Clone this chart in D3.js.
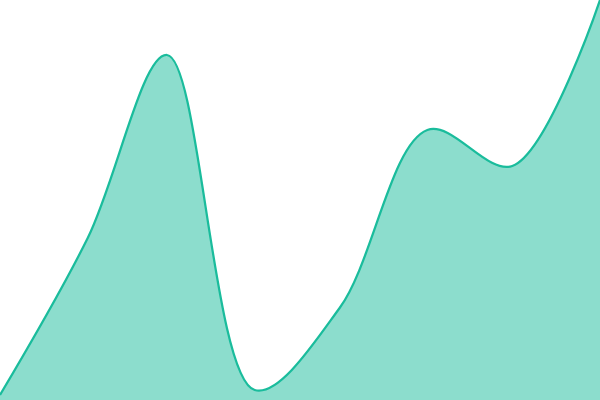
<!DOCTYPE html>
<html>
<head>
<meta charset="utf-8">
<script src="https://cdn.jsdelivr.net/npm/d3@7"></script>
<style>
	html, body { margin: 0; padding: 0; background: #fff; }
	svg { display: block; }
</style>
</head>
<body>
<script>
// monthly points, values on a 0..100 scale
var months = ["2019-01-01", "2019-02-01", "2019-03-01", "2019-04-01", "2019-05-01", "2019-06-01", "2019-07-01", "2019-08-01"];
var values = [1.25, 40.5, 86.25, 2.5, 23, 67.5, 58.5, 100];

var width = 600, height = 400;

var svg = d3.select("body").append("svg").attr("width", width).attr("height", height);

var parse = d3.utcParse("%Y-%m-%d");
var data = months.map(function(m, i){ return {date: parse(m), v: values[i]}; });

var x = d3.scaleUtc().domain(d3.extent(data, function(d){ return d.date; })).range([0, width]);
var y = d3.scaleLinear().domain([0, 100]).range([height, 0]);

var area = d3.area()
	.x(function(d){ return x(d.date); })
	.y0(height)
	.y1(function(d){ return y(d.v); })
	.curve(d3.curveCatmullRom);

var line = d3.line()
	.x(function(d){ return x(d.date); })
	.y(function(d){ return y(d.v); })
	.curve(d3.curveCatmullRom);

svg.append("path").datum(data).attr("d", area)
	.attr("fill", "#1abc9c").attr("fill-opacity", 0.5);

svg.append("path").datum(data).attr("d", line)
	.attr("fill", "none").attr("stroke", "#1abc9c").attr("stroke-width", 2.25);
</script>
</body>
</html>
